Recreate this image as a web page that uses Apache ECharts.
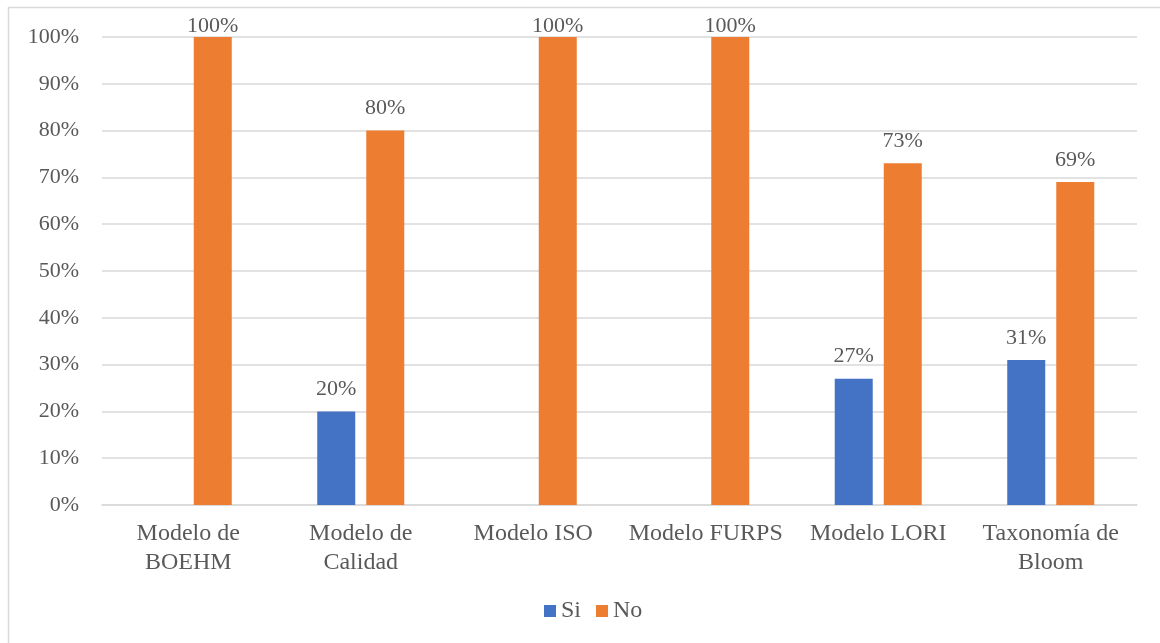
<!DOCTYPE html>
<html>
<head>
<meta charset="utf-8">
<script src="https://cdn.jsdelivr.net/npm/echarts@6/dist/echarts.min.js"></script>
<style>
  html, body { margin: 0; padding: 0; background: #fff; }
  #chart { width: 1160px; height: 643px; }
</style>
</head>
<body>
<div id="chart"></div>
<script>
// Categories and percentages per model
const categories = ['Modelo de\nBOEHM', 'Modelo de\nCalidad', 'Modelo ISO', 'Modelo FURPS', 'Modelo LORI', 'Taxonomía de\nBloom'];
const siValues = [null, 20, null, null, 27, 31];
const noValues = [100, 80, 100, 100, 73, 69];
const yTicks = [0, 10, 20, 30, 40, 50, 60, 70, 80, 90, 100];

const FONT = '"Liberation Serif", "Times New Roman", serif';
const TEXT = '#595959';

function labelFor(v) {
  // labels at the top of the plot sit closer to the bar
  return {
    show: true,
    position: 'top',
    distance: v >= 100 ? 0 : 11,
    formatter: '{c}%',
    fontFamily: FONT,
    fontSize: 22,
    color: TEXT
  };
}

function buildData(values) {
  return values.map(v => v === null ? { value: null } : { value: v, label: labelFor(v) });
}

const chart = echarts.init(document.getElementById('chart'));
chart.setOption({
  animation: false,
  textStyle: { fontFamily: FONT },
  graphic: [{
    type: 'rect',
    shape: { x: 8.5, y: 7.5, width: 1170, height: 660 },
    style: { fill: 'none', stroke: '#D9D9D9', lineWidth: 1.5 },
    silent: true
  }],
  legend: {
    bottom: 15,
    left: 539,
    itemWidth: 12,
    itemHeight: 12,
    itemGap: 15,
    icon: 'rect',
    textStyle: { fontFamily: FONT, fontSize: 24, color: TEXT },
    data: ['Si', 'No']
  },
  grid: { left: 102, right: 23, top: 37, bottom: 138 },
  xAxis: {
    type: 'category',
    data: categories,
    axisTick: { show: false },
    axisLine: { lineStyle: { color: '#D9D9D9', width: 1.5 } },
    axisLabel: {
      fontFamily: FONT, fontSize: 24, color: TEXT,
      margin: 14, lineHeight: 29, interval: 0
    }
  },
  yAxis: {
    type: 'value',
    min: 0,
    max: 100,
    interval: 10,
    axisLine: { show: false },
    axisTick: { show: false },
    splitLine: { lineStyle: { color: '#D9D9D9', width: 1.5 } },
    axisLabel: {
      fontFamily: FONT, fontSize: 22, color: TEXT, margin: 23,
      formatter: v => yTicks.includes(v) ? v + '%' : ''
    }
  },
  series: [
    {
      name: 'Si',
      type: 'bar',
      data: buildData(siValues),
      barWidth: 38,
      barGap: '29%',
      itemStyle: { color: '#4472C4' }
    },
    {
      name: 'No',
      type: 'bar',
      data: buildData(noValues),
      barWidth: 38,
      barGap: '29%',
      itemStyle: { color: '#ED7D31' }
    }
  ]
});
</script>
</body>
</html>
